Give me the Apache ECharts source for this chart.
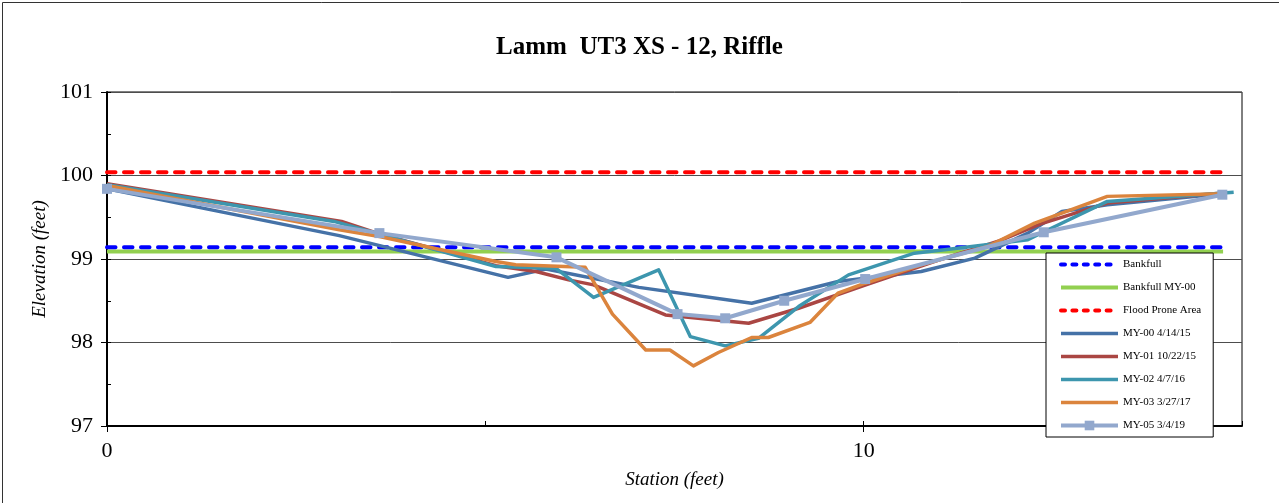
<!DOCTYPE html>
<html><head><meta charset="utf-8">
<script src="https://cdn.jsdelivr.net/npm/echarts@6/dist/echarts.min.js"></script>
<style>html,body{margin:0;padding:0;background:#fff}#c{width:1279px;height:503px}</style>
</head><body><div id="c"></div>
<script>
// ---- text ----
const chartTitle = 'Lamm  UT3 XS - 12, Riffle';
const xTitle = 'Station (feet)';
const yTitle = 'Elevation (feet)';
const seriesNames = ['Bankfull', 'Bankfull MY-00', 'Flood Prone Area', 'MY-00 4/14/15', 'MY-01 10/22/15', 'MY-02 4/7/16', 'MY-03 3/27/17', 'MY-05 3/4/19'];

// ---- axis ranges ----
const xRange = [0, 15];
const yRange = [97, 101];

// ---- data: [station, elevation] ----
const bankfull = [[0, 99.14], [14.75, 99.14]];
const bankfullMY00 = [[0, 99.09], [14.75, 99.09]];
const floodProne = [[0, 100.04], [14.75, 100.04]];
const my00 = [[0, 99.84], [3.07, 99.28], [5.3, 98.78], [5.8, 98.88], [7.03, 98.66], [8.52, 98.47], [9.66, 98.73], [10.76, 98.85], [11.47, 99.01], [12.17, 99.31], [12.62, 99.57], [13.22, 99.65], [14.75, 99.78]];
const my01 = [[0, 99.9], [3.1, 99.45], [3.6, 99.3], [5.14, 98.92], [5.67, 98.85], [6.1, 98.75], [6.43, 98.69], [7.38, 98.33], [8.48, 98.23], [9.14, 98.41], [10.0, 98.68], [11.0, 98.99], [11.8, 99.22], [12.34, 99.42], [13.22, 99.67], [14.75, 99.79]];
const my02 = [[0, 99.89], [3.0, 99.45], [5.14, 98.91], [5.93, 98.89], [6.43, 98.54], [7.29, 98.87], [7.71, 98.07], [8.17, 97.96], [8.61, 98.05], [9.14, 98.43], [9.8, 98.81], [10.67, 99.07], [11.07, 99.11], [12.17, 99.23], [12.39, 99.33], [13.22, 99.69], [14.89, 99.8]];
const my03 = [[0, 99.88], [3.07, 99.35], [3.6, 99.27], [5.14, 98.97], [5.4, 98.93], [6.32, 98.9], [6.68, 98.34], [7.12, 97.91], [7.44, 97.91], [7.75, 97.72], [8.08, 97.88], [8.52, 98.06], [8.74, 98.06], [9.29, 98.24], [9.66, 98.59], [10.02, 98.71], [10.76, 98.93], [11.64, 99.15], [12.26, 99.43], [13.22, 99.75], [14.75, 99.78]];
const my05 = [[0, 99.84], [3.6, 99.31], [5.94, 99.02], [7.54, 98.34], [8.17, 98.29], [8.95, 98.5], [10.02, 98.76], [12.38, 99.32], [14.74, 99.77]];

const FONT = '"Liberation Serif", "Times New Roman", Times, serif';
const chart = echarts.init(document.getElementById('c'), null, {renderer: 'canvas'});

function lineSeries(name, data, color, width, dash, extra) {
  return Object.assign({
    name: name, type: 'line', data: data, symbol: 'none', animation: false,
    lineStyle: dash ? {color: color, width: width, type: dash, cap: 'round'} : {color: color, width: width, join: 'round'},
    itemStyle: {color: color}
  }, extra || {});
}

const series = [
  lineSeries(seriesNames[0], bankfull, '#0000FF', 4, [8.5, 8.5], {z: 3}),
  lineSeries(seriesNames[1], bankfullMY00, '#92D050', 4, null, {z: 2}),
  lineSeries(seriesNames[2], floodProne, '#FF0000', 4, [8.5, 8.5]),
  lineSeries(seriesNames[3], my00, '#4572A7', 3.5),
  lineSeries(seriesNames[4], my01, '#AA4643', 3.5),
  lineSeries(seriesNames[5], my02, '#3D96AE', 3.5),
  lineSeries(seriesNames[6], my03, '#DB843D', 3.5),
  lineSeries(seriesNames[7], my05, '#92A8CD', 4, null, {symbol: 'rect', symbolSize: 10, showSymbol: true})
];

const legendData = seriesNames.map(function (n, i) {
  const item = {name: n};
  if (i < 7) item.itemStyle = {opacity: 0};
  if (i === 0 || i === 2) item.lineStyle = {type: [4, 7.4], cap: 'round', width: 4};
  return item;
});

chart.setOption({
  animation: false,
  backgroundColor: '#fff',
  title: {
    text: chartTitle, left: 'center', top: 30,
    textStyle: {fontFamily: FONT, fontSize: 25, fontWeight: 'bold', color: '#000'}
  },
  grid: {left: 107, right: 37, top: 92, bottom: 77, show: true, borderColor: '#000', borderWidth: 1, backgroundColor: 'transparent'},
  xAxis: [{
    type: 'value', min: xRange[0], max: xRange[1], interval: 10, position: 'bottom',
    axisLine: {show: true, onZero: false, lineStyle: {color: '#000', width: 2}},
    axisTick: {show: true, length: 6, lineStyle: {color: '#000'}},
    axisLabel: {showMaxLabel: false, fontFamily: FONT, fontSize: 22, color: '#000', margin: 14},
    splitLine: {show: false},
    name: xTitle, nameLocation: 'middle', nameGap: 44,
    nameTextStyle: {fontFamily: FONT, fontSize: 19, fontStyle: 'italic', color: '#000'}
  }, {
    type: 'value', min: xRange[0], max: xRange[1], interval: 5, position: 'bottom',
    axisLine: {show: false, onZero: false}, axisTick: {show: true, inside: true, length: 5, lineStyle: {color: '#000'}},
    axisLabel: {show: false}, splitLine: {show: false}
  }],
  yAxis: [{
    type: 'value', min: yRange[0], max: yRange[1], interval: 1, position: 'left',
    axisLine: {show: true, onZero: false, lineStyle: {color: '#000', width: 2}},
    axisTick: {show: true, length: 6, lineStyle: {color: '#000'}},
    axisLabel: {fontFamily: FONT, fontSize: 22, color: '#000', margin: 14},
    splitLine: {show: true, lineStyle: {color: '#4d4d4d', width: 1}},
    name: yTitle, nameLocation: 'middle', nameGap: 58,
    nameTextStyle: {fontFamily: FONT, fontSize: 19, fontStyle: 'italic', color: '#000'}
  }, {
    type: 'value', min: yRange[0], max: yRange[1], interval: 0.5, position: 'left',
    axisLine: {show: false, onZero: false}, axisTick: {show: true, inside: true, length: 4, lineStyle: {color: '#000'}},
    axisLabel: {show: false}, splitLine: {show: false}
  }],
  legend: {
    orient: 'vertical', left: 1046, top: 253,
    padding: [6, 12, 6, 13], itemWidth: 57, itemHeight: 12, itemGap: 12,
    backgroundColor: '#fff', borderColor: '#000', borderWidth: 1, borderRadius: 0,
    textStyle: {fontFamily: FONT, fontSize: 11, color: '#000'},
    lineStyle: {width: 'inherit'},
    data: legendData
  },
  graphic: [{
    type: 'rect', left: 0, top: 0, silent: true, z: 100,
    shape: {x: 0, y: 0, width: 1277, height: 501},
    style: {fill: null, stroke: '#333', lineWidth: 1}
  }],
  series: series
});
</script>
</body></html>
